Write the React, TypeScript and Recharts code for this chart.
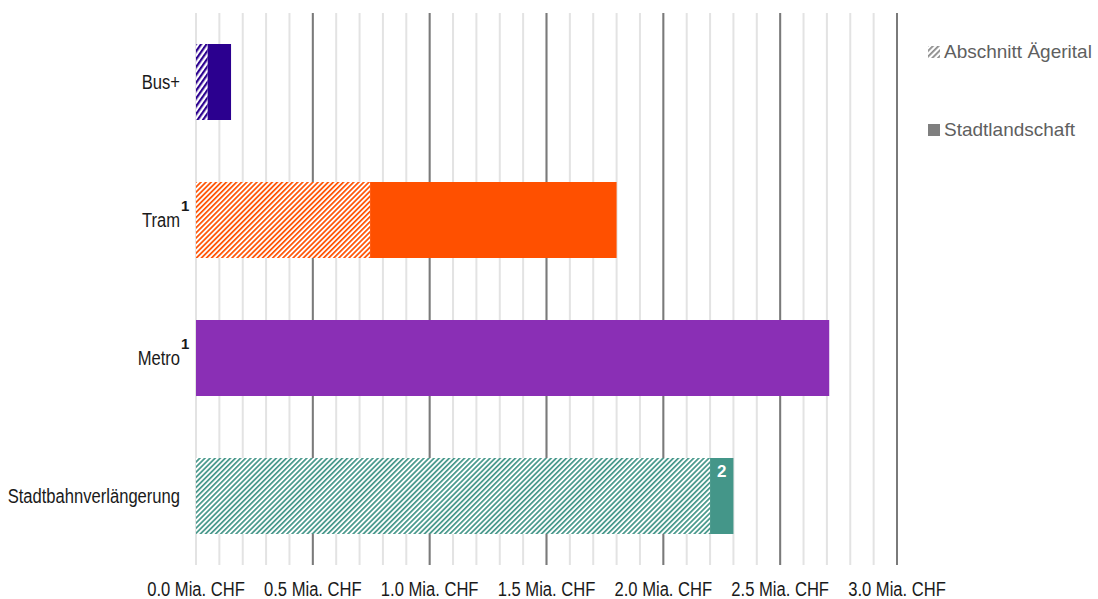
import React from 'react';
import { BarChart, Bar, XAxis, YAxis, CartesianGrid, Cell, LabelList } from 'recharts';

const categories = ['Bus+', 'Tram', 'Metro', 'Stadtbahnverlängerung'];
const footnotes = ['', '1', '1', ''];
const aegerital = [0.05, 0.745, 0, 2.2];
const stadtlandschaft = [0.1, 1.055, 2.71, 0.1];
const segmentNotes = ['', '', '', '2'];
const barColors = ['#2b008f', '#ff5000', '#8a2fb5', '#449689'];
const tickValues = [0, 0.5, 1, 1.5, 2, 2.5, 3];
const majorGrid = [0.5, 1, 1.5, 2, 2.5, 3];
const minorGrid = [0, 0.1, 0.2, 0.3, 0.4, 0.5, 0.6, 0.7, 0.8, 0.9, 1, 1.1, 1.2, 1.3, 1.4, 1.5, 1.6, 1.7, 1.8, 1.9, 2, 2.1, 2.2, 2.3, 2.4, 2.5, 2.6, 2.7, 2.8, 2.9, 3];

const seriesNames = ['Abschnitt Ägerital', 'Stadtlandschaft'];

const data = categories.map((name, i) => ({
  name,
  aegerital: aegerital[i],
  stadt: stadtlandschaft[i],
}));

const SANS = '"Liberation Sans", Arial, sans-serif';
// no narrow font installed, squeeze regular Arial instead
const SQUEEZE = 0.79;

const CategoryTick = (props: any) => {
  const { x, y, payload } = props;
  const note = footnotes[payload.index];
  return (
    <g>
      <g transform={`translate(${x - 8},${y + 7}) scale(${SQUEEZE},1)`}>
        <text x={0} y={0} textAnchor="end" fontFamily={SANS} fontSize={21} fill="#1a1a1a">
          {payload.value}
        </text>
      </g>
      {note && (
        <text x={x - 7} y={y - 9} fontFamily={SANS} fontSize={15} fontWeight={700} fill="#1a1a1a">
          {note}
        </text>
      )}
    </g>
  );
};

const ValueTick = (props: any) => {
  const { x, payload } = props;
  return (
    <g transform={`translate(${x},596) scale(${SQUEEZE},1)`}>
      <text x={0} y={0} textAnchor="middle" fontFamily={SANS} fontSize={21} fill="#1a1a1a">
        {`${Number(payload.value).toFixed(1)} Mia. CHF`}
      </text>
    </g>
  );
};

const NoteLabel = (props: any) => {
  const { x, y, width, index } = props;
  const note = segmentNotes[index];
  if (!note) return null;
  return (
    <text x={x + width / 2} y={y + 19} textAnchor="middle" fontFamily={SANS} fontSize={17} fontWeight={700} fill="#fff">
      {note}
    </text>
  );
};

const LegendBox = () => (
  <div style={{ position: 'absolute', left: 927, top: 41, fontFamily: SANS, fontSize: 19, color: '#5f5f5f' }}>
    {seriesNames.map((name, i) => (
      <div key={name} style={{ display: 'flex', alignItems: 'center', height: 22, marginBottom: i === 0 ? 56 : 0 }}>
        <svg width={14} height={14} style={{ marginRight: 3 }}>
          <defs>
            <pattern id="hatch-legend" patternUnits="userSpaceOnUse" width={4} height={4} patternTransform="rotate(45)">
              <rect width={4} height={4} fill="#fff" />
              <rect width={1.8} height={4} fill="#8c8c8c" />
            </pattern>
          </defs>
          <rect x={1} y={1} width={12} height={12} fill={i === 0 ? 'url(#hatch-legend)' : '#7f7f7f'} />
        </svg>
        <span>{name}</span>
      </div>
    ))}
  </div>
);

export default function App() {
  return (
    <div style={{ position: 'absolute', left: 0, top: 0, width: 1098, height: 599, background: '#fff' }}>
      <BarChart
        width={1098}
        height={599}
        data={data}
        layout="vertical"
        margin={{ top: 13, right: 201, bottom: 0, left: 0 }}
      >
        <defs>
          {barColors.map((c, i) => (
            <pattern
              key={c}
              id={`hatch-${i}`}
              patternUnits="userSpaceOnUse"
              width={i === 0 ? 4.5 : 3.6}
              height={4}
              patternTransform={i === 0 ? 'rotate(35)' : 'rotate(45)'}
            >
              <rect width={5} height={4} fill="#fff" />
              <rect width={i === 0 ? 2.2 : 1.7} height={4} fill={c} />
            </pattern>
          ))}
        </defs>
        <CartesianGrid horizontal={false} verticalValues={minorGrid} stroke="#e3e3e3" strokeWidth={2} />
        <CartesianGrid horizontal={false} verticalValues={majorGrid} stroke="#7a7a7a" strokeWidth={2} />
        <XAxis
          type="number"
          domain={[0, 3]}
          ticks={tickValues}
          height={34}
          axisLine={false}
          tickLine={false}
          tick={<ValueTick />}
          interval={0}
        />
        <YAxis
          type="category"
          dataKey="name"
          width={196}
          axisLine={false}
          tickLine={false}
          tick={<CategoryTick />}
          interval={0}
        />
        <Bar dataKey="aegerital" name={seriesNames[0]} stackId="a" barSize={76} isAnimationActive={false}>
          {data.map((_, i) => (
            <Cell key={i} fill={`url(#hatch-${i})`} />
          ))}
        </Bar>
        <Bar dataKey="stadt" name={seriesNames[1]} stackId="a" barSize={76} isAnimationActive={false}>
          {data.map((_, i) => (
            <Cell key={i} fill={barColors[i]} />
          ))}
          <LabelList dataKey="stadt" content={<NoteLabel />} />
        </Bar>
      </BarChart>
      <LegendBox />
    </div>
  );
}
